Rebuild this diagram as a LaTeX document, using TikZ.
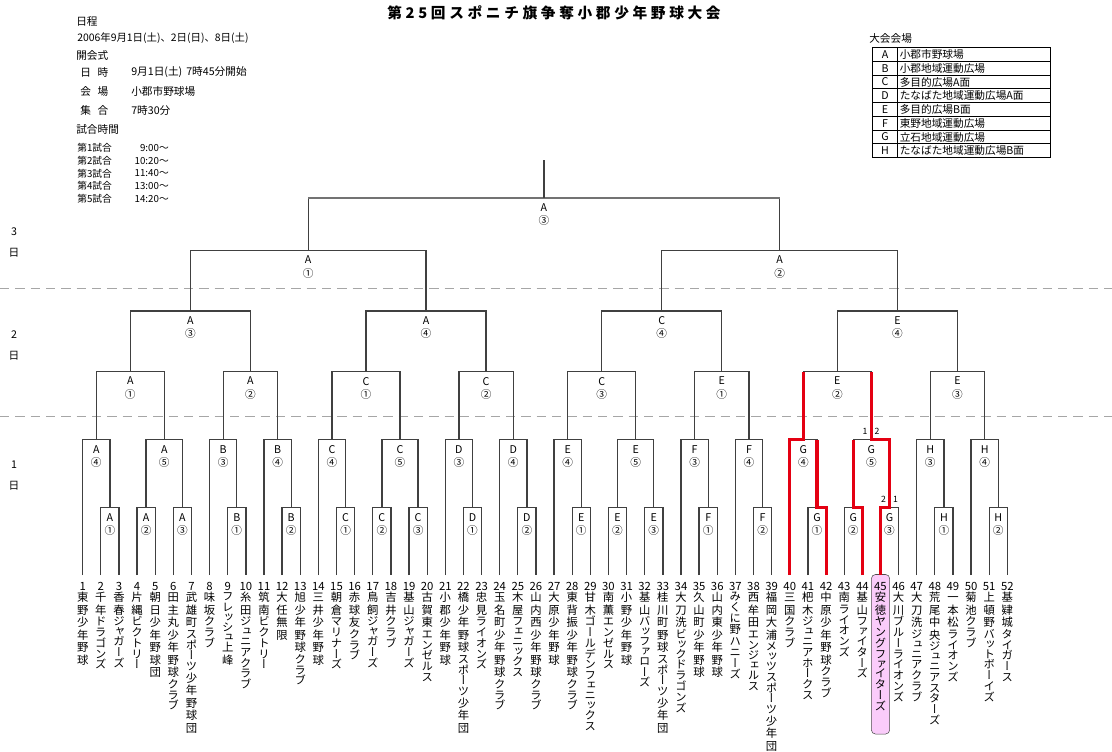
\documentclass[tikz,border=0pt]{standalone}
\usepackage{fontspec}
\setmainfont{Noto Sans CJK JP}
\newfontfamily\tatefont{Noto Sans CJK JP}[RawFeature=+vert]
\newfontfamily\titlefont{Noto Sans CJK JP}[LetterSpace=25]
\usetikzlibrary{calc}
\definecolor{winred}{RGB}{228,0,18}
\definecolor{winpink}{RGB}{250,204,250}

% one character of a vertical name: height, depth, glyph
\newcommand\tatebox[3]{\hbox to 10pt{\hss\vrule height #1 depth #2 width 0pt\smash{#3}\hss}}
\ExplSyntaxOn
\cs_new_protected:Npn \tatechars #1
  {
    \tl_set:Nx \l_tmpa_tl {#1}
    \tl_map_inline:Nn \l_tmpa_tl
      {
        \tl_if_in:nnTF { ァィゥェォッャュョっゃゅょ } {##1}
          { \tatebox {6.6pt} {0.15pt} {##1} }
          {
            \int_compare:nNnTF { `##1 } < { "3100 }
              { \tatebox {7.28pt} {0.82pt} {##1} }
              { \tatebox {7.92pt} {1.46pt} {##1} }
          }
      }
  }
\ExplSyntaxOff
% team name set top to bottom, number first
\newcommand\tate[2]{\vtop{\baselineskip=0pt\lineskiplimit=0pt\lineskip=0pt
  \tatebox{6.6pt}{0.46pt}{#1}\tatefont\tatechars{#2}}}
% one game: name, two sides, level, field, game number
\newcommand\game[6]{%
  \path ($(#2)!.5!(#3)$) coordinate (#1m);
  \coordinate (#1) at (#1m |- #4);
  \draw[bracket] (#2) |- (#1) -| (#3);
  \node[lbl] (#1l) at (#1) {#5\\#6};
}

\begin{document}
\begin{tikzpicture}[x=0.75pt,y=-0.75pt,
  bracket/.style={draw=black!75,line width=1pt},
  win/.style={draw=winred,line width=2.3pt},
  lbl/.style={anchor=north,inner sep=0pt,align=center,font=\fontsize{8}{10}\selectfont,yshift=-4pt},
  team/.style={anchor=north,inner sep=0pt,font=\fontsize{8.5}{9}\selectfont},
  info/.style={anchor=west,inner sep=0pt,font=\fontsize{8}{9}\selectfont},
  dayline/.style={draw=black!35,line width=1.1pt,dash pattern=on 7pt off 4.5pt}]

\fill[white] (0,0) rectangle (1112,751);
\useasboundingbox (0,0) rectangle (1112,751);

\node[font=\titlefont\bfseries\fontsize{11}{13}\selectfont] (title) at (554,13) {第25回スポニチ旗争奪小郡少年野球大会};

% schedule
\node[info] (sched) at (76,22) {日程};
\node[info,font=\fontsize{7.8}{8}\selectfont] (dates) at (77,38) {2006年9月1日(土)、2日(日)、8日(土)};
\node[info] (opening) at (76,55) {開会式};
\node[info] (k1) at (80,72) {日\hspace{5pt}時};
\node[info] (v1) at (131,72) {9月1日(土)\hspace{3pt}7時45分開始};
\node[info] (k2) at (80,91) {会\hspace{5pt}場};
\node[info] (v2) at (131,91) {小郡市野球場};
\node[info] (k3) at (80,110) {集\hspace{5pt}合};
\node[info] (v3) at (131,110) {7時30分};
\node[info] (times) at (76,129) {試合時間};
\foreach \n/\t in {1/9:00～,2/10:20～,3/11:40～,4/13:00～,5/14:20～}{
  \node[info,font=\fontsize{7.3}{8}\selectfont] (g\n) at (77,{148+12.7*(\n-1)}) {第{\n}試合};
  \node[info,font=\fontsize{7.3}{8}\selectfont,anchor=east] (h\n) at (169,{148+12.7*(\n-1)}) {\t};
}

% venues
\node[info] (venue) at (869,38) {大会会場};
\draw[line width=0.8pt] (872.7,47.7) rectangle (1050.5,157.7);
\draw[line width=0.8pt] (897.3,47.7) -- (897.3,157.7);
\foreach \k in {1,...,7}
  \draw[line width=0.8pt] (872.7,{47.7+13.75*\k}) -- (1050.5,{47.7+13.75*\k});
\foreach \l/\v [count=\k] in {A/小郡市野球場,B/小郡地域運動広場,C/多目的広場A面,D/たなばた地域運動広場A面,E/多目的広場B面,F/東野地域運動広場,G/立石地域運動広場,H/たなばた地域運動広場B面}{
  \node[font=\fontsize{8}{10}\selectfont,inner sep=0pt] (vl\l) at (885,{47.7+13.75*(\k-0.5)}) {\l};
  \node[info] (vv\l) at (899.5,{47.7+13.75*(\k-0.5)}) {\v};
}

% days
\draw[dayline] (0,288.5) -- (1112,288.5);
\draw[dayline] (0,416.7) -- (1112,416.7);
\foreach \d/\y in {3/232,2/335,1/465}{
  \node[font=\fontsize{8}{10}\selectfont] (day\d) at (14,\y) {\d};
  \node[font=\fontsize{8}{10}\selectfont] (day\d b) at (14,\y+21) {日};
}

% levels
\coordinate (lv1) at (0,507.7);
\coordinate (lv2) at (0,439.7);
\coordinate (lv3) at (0,371.5);
\coordinate (lv4) at (0,311);
\coordinate (lv5) at (0,250.3);
\coordinate (lv6) at (0,197.7);
\coordinate (lv7) at (0,160);

% teams
\foreach \i in {1,...,52}
  \coordinate (t\i) at ({82.7+18.13*(\i-1)},575);
\draw[fill=winpink,draw=black!70,rounded corners=3pt] ($(t45)+(-9,-0.5)$) rectangle ($(t45)+(9.2,159)$);
\foreach \i/\nm in {1/東野少年野球,2/千年ドラゴンズ,3/香春ジャガーズ,4/片縄ビクトリー,5/朝日少年野球団,6/田主丸少年野球クラブ,7/武雄町スポーツ少年野球団,8/味坂クラブ,9/フレッシュ上峰,10/糸田ジュニアクラブ,11/筑南ビクトリー,12/大任無限,13/旭少年野球クラブ,14/三井少年野球,15/朝倉マリナーズ,16/赤球友クラブ,17/鳥飼ジャガーズ,18/吉井クラブ,19/基山ジャガーズ,20/古賀東エンゼルス,21/小郡少年野球,22/橋少年野球スポーツ少年団,23/忠見ライオンズ,24/玉名町少年野球クラブ,25/木屋フェニックス,26/山内西少年野球クラブ,27/大原少年野球,28/東背振少年野球クラブ,29/甘木ゴールデンフェニックス,30/南薫エンゼルス,31/小野少年野球,32/基山バッファローズ,33/桂川町野球スポーツ少年団,34/大刀洗ビックドラゴンズ,35/久山町少年野球,36/山内東少年野球,37/みくに野ハニーズ,38/西牟田エンジェルス,39/福岡大浦メッツスポーツ少年団,40/三国クラブ,41/杷木ジュニアホークス,42/中原少年野球クラブ,43/南ライオンズ,44/基山ファイターズ,45/安徳ヤングファイターズ,46/大川ブルーライオンズ,47/大刀洗ジュニアクラブ,48/荒尾中央ジュニアスターズ,49/一本松ライオンズ,50/菊池クラブ,51/上頓野バットボーイズ,52/基肄城タイガース}
  \node[team] (n\i) at ($(t\i)+(0,6.3)$) {\tate{\i}{\nm}};

% day 1
\foreach \g/\a/\b/\c/\n in {A1/t2/t3/A/①,A2/t4/t5/A/②,A3/t6/t7/A/③,B1/t9/t10/B/①,B2/t12/t13/B/②,C1/t15/t16/C/①,C2/t17/t18/C/②,C3/t19/t20/C/③,D1/t22/t23/D/①,D2/t25/t26/D/②,E1/t28/t29/E/①,E2/t30/t31/E/②,E3/t32/t33/E/③,F1/t35/t36/F/①,F2/t38/t39/F/②,G1/t41/t42/G/①,G2/t43/t44/G/②,G3/t45/t46/G/③,H1/t48/t49/H/①,H2/t51/t52/H/②}
  \game{\g}{\a}{\b}{lv1}{\c}{\n};
\foreach \g/\a/\b/\c/\n in {A4/t1/A1/A/④,A5/A2/A3/A/⑤,B3/t8/B1/B/③,B4/t11/B2/B/④,C4/t14/C1/C/④,C5/C2/C3/C/⑤,D3/t21/D1/D/③,D4/t24/D2/D/④,E4/t27/E1/E/④,E5/E2/E3/E/⑤,F3/t34/F1/F/③,F4/t37/F2/F/④,G4/t40/G1/G/④,G5/G2/G3/G/⑤,H3/t47/H1/H/③,H4/t50/H2/H/④}
  \game{\g}{\a}{\b}{lv2}{\c}{\n};

% day 2
\foreach \g/\a/\b/\c/\n in {sA1/A4/A5/A/①,sA2/B3/B4/A/②,sC1/C4/C5/C/①,sC2/D3/D4/C/②,sC3/E4/E5/C/③,sE1/F3/F4/E/①,sE2/G4/G5/E/②,sE3/H3/H4/E/③}
  \game{\g}{\a}{\b}{lv3}{\c}{\n};
\foreach \g/\a/\b/\c/\n in {sA3/sA1/sA2/A/③,sA4/sC1/sC2/A/④,sC4/sC3/sE1/C/④,sE4/sE2/sE3/E/④}
  \game{\g}{\a}{\b}{lv4}{\c}{\n};

% day 3
\game{fA1}{sA3}{sA4}{lv5}{A}{①}
\game{fA2}{sC4}{sE4}{lv5}{A}{②}
\game{fA3}{fA1}{fA2}{lv6}{A}{③}
\draw[draw=black!55,line width=1.6pt] (fA1 |- fA3) -- (fA2 |- fA3);
\draw[bracket] (fA3) -- (fA3 |- lv7);

% path of no. 45
\draw[win] (t40) |- (G4) -- (G4 |- sE2);
\draw[win] (t42) |- (G1) -- (G1 |- G4);
\draw[win] (t44) |- (G2) -- (G2 |- G5);
\draw[win] (t45) |- (G3) -- (G3 |- G5) -- (G5) -- (G5 |- sE2);
\node[font=\fontsize{6.5}{8}\selectfont] (p1) at (865,431) {1};
\node[font=\fontsize{6.5}{8}\selectfont] (p2) at (877,431) {2};
\node[font=\fontsize{6.5}{8}\selectfont] (q2) at (883.5,499.5) {2};
\node[font=\fontsize{6.5}{8}\selectfont] (q1) at (895.5,499.5) {1};
\end{tikzpicture}
\end{document}
